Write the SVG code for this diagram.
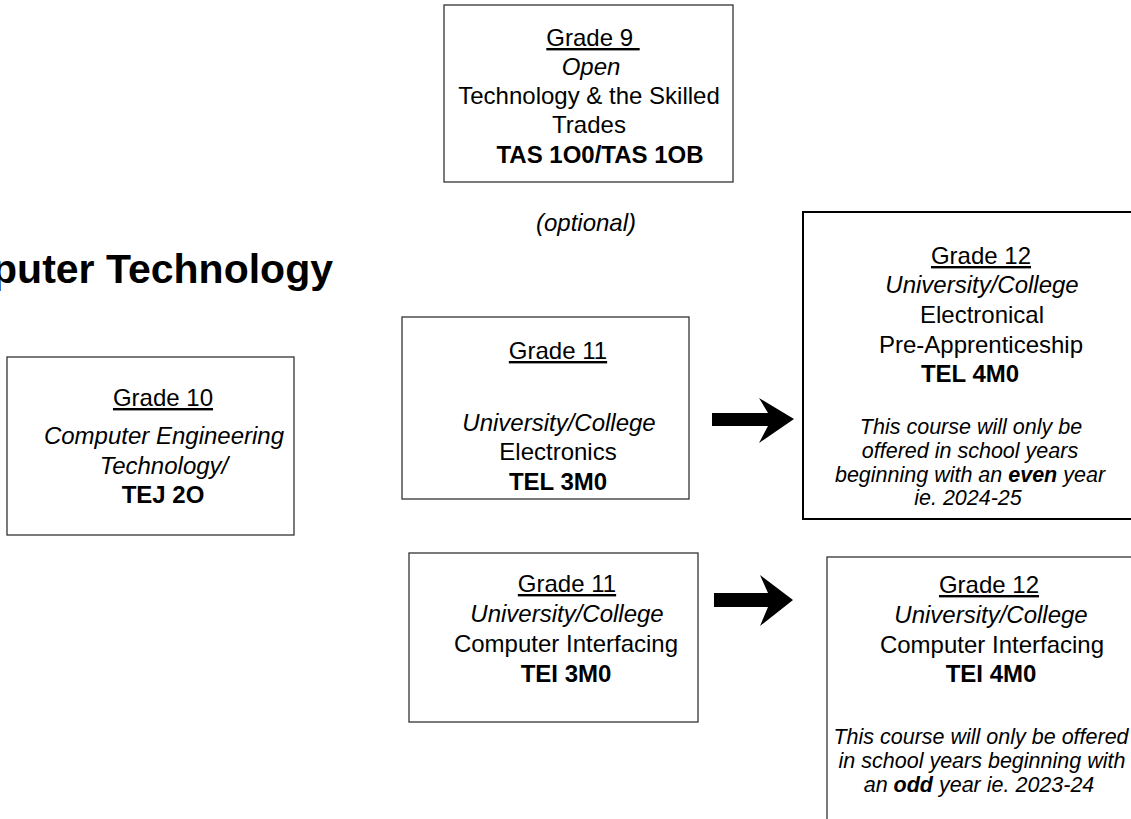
<svg xmlns="http://www.w3.org/2000/svg" width="1131" height="819" viewBox="0 0 1131 819">
<style>
text{font-family:"Liberation Sans",Arial,sans-serif;font-size:24px;fill:#000;text-anchor:middle}
.u{text-decoration:underline;white-space:pre}
.i{font-style:italic}
.b{font-weight:bold}
.p{font-style:italic;font-size:21.5px}
.box{fill:#fff;stroke:#333;stroke-width:1.3}
.box2{fill:#fff;stroke:#000;stroke-width:2}
.title{font-size:41px;font-weight:bold;text-anchor:end}
.arrow{fill:#000}
</style>
<rect width="1131" height="819" fill="#fff"/>
<text class="title" x="333" y="283">Computer Technology</text>
<g id="g9">
<rect class="box" x="444" y="5" width="289" height="177"/>
<text class="u" x="593" y="46">Grade 9 </text>
<text class="i" x="591" y="75">Open</text>
<text x="589" y="104">Technology &amp; the Skilled</text>
<text x="589" y="133">Trades</text>
<text class="b" x="600" y="163">TAS 1O0/TAS 1OB</text>
</g>
<text class="i" x="586" y="231">(optional)</text>
<g id="g10">
<rect class="box" x="7" y="357" width="287" height="178"/>
<text class="u" x="163" y="406">Grade 10</text>
<text class="i" x="164" y="444">Computer Engineering</text>
<text class="i" x="164" y="474">Technology/</text>
<text class="b" x="163" y="503">TEJ 2O</text>
</g>
<g id="g11a">
<rect class="box" x="402" y="317" width="287" height="182"/>
<text class="u" x="558" y="359">Grade 11</text>
<text class="i" x="559" y="431">University/College</text>
<text x="558" y="460">Electronics</text>
<text class="b" x="558" y="490">TEL 3M0</text>
</g>
<g id="g11b">
<rect class="box" x="409" y="553" width="289" height="169"/>
<text class="u" x="567" y="592">Grade 11</text>
<text class="i" x="567" y="622">University/College</text>
<text x="566" y="652">Computer Interfacing</text>
<text class="b" x="566" y="682">TEI 3M0</text>
</g>
<g id="g12a">
<rect class="box2" x="803" y="212" width="360" height="307"/>
<text class="u" x="981" y="264">Grade 12</text>
<text class="i" x="982" y="293">University/College</text>
<text x="982" y="323">Electronical</text>
<text x="981" y="353">Pre-Apprenticeship</text>
<text class="b" x="970" y="382">TEL 4M0</text>
<text class="p" x="971" y="434">This course will only be</text>
<text class="p" x="970" y="458">offered in school years</text>
<text class="p" x="970" y="482">beginning with an <tspan class="b">even</tspan> year</text>
<text class="p" x="968" y="505">ie. 2024-25</text>
</g>
<g id="g12b">
<rect class="box" x="827" y="557" width="340" height="300"/>
<text class="u" x="989" y="593">Grade 12</text>
<text class="i" x="991" y="623">University/College</text>
<text x="992" y="653">Computer Interfacing</text>
<text class="b" x="991" y="682">TEI 4M0</text>
<text class="p" x="981" y="744">This course will only be offered</text>
<text class="p" x="982" y="768">in school years beginning with</text>
<text class="p" x="979" y="792">an <tspan class="b">odd</tspan> year ie. 2023-24</text>
</g>
<g id="connectors">
<polygon class="arrow" points="712,413 768,413 759,398 794,419 759,443 768,426 712,426"/>
<polygon class="arrow" points="714,593 768,593 760,575 793,600 760,626 768,607 714,607"/>
</g>
</svg>
